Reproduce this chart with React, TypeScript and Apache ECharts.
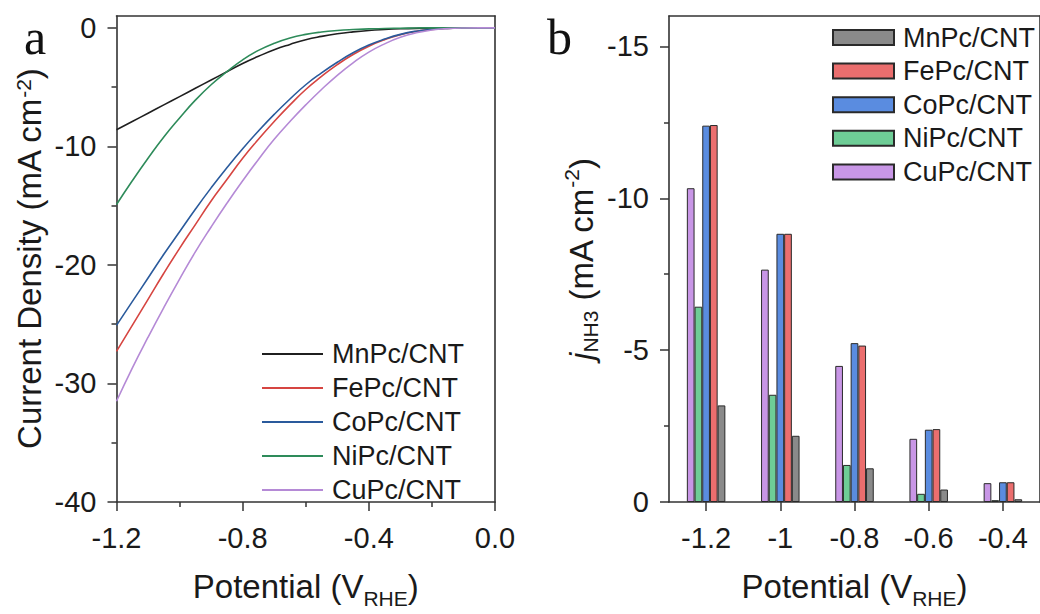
import React, { useEffect, useRef } from "react";
import * as echarts from "echarts";

// ---------- Panel a: LSV curves ----------
const potentials = [
  -1.2, -1.15, -1.1, -1.05, -1.0, -0.95, -0.9, -0.85, -0.8, -0.75, -0.7, -0.65,
  -0.6, -0.55, -0.5, -0.45, -0.4, -0.35, -0.3, -0.25, -0.2, -0.15, -0.1, -0.05, 0,
];
const mnLine = [-8.6, -7.9, -7.2, -6.5, -5.8, -5.1, -4.4, -3.7, -3.0, -2.4, -1.85, -1.4, -1.0, -0.72, -0.5, -0.34, -0.22, -0.14, -0.08, -0.04, -0.02, -0.01, 0, 0, 0];
const feLine = [-27.3, -25.1, -22.9, -20.7, -18.6, -16.6, -14.6, -12.8, -11.0, -9.4, -7.9, -6.5, -5.2, -4.1, -3.1, -2.25, -1.55, -1.0, -0.58, -0.3, -0.13, -0.04, -0.01, 0, 0];
const coLine = [-25.1, -23.1, -21.1, -19.1, -17.2, -15.3, -13.5, -11.8, -10.2, -8.7, -7.3, -6.0, -4.8, -3.8, -2.9, -2.1, -1.45, -0.95, -0.55, -0.28, -0.12, -0.04, -0.01, 0, 0];
const niLine = [-14.9, -12.9, -11.0, -9.2, -7.6, -6.1, -4.8, -3.7, -2.7, -1.9, -1.3, -0.85, -0.55, -0.35, -0.22, -0.14, -0.09, -0.05, -0.03, -0.01, 0, 0, 0, 0, 0];
const cuLine = [-31.5, -28.7, -26.1, -23.6, -21.2, -18.9, -16.8, -14.8, -12.9, -11.1, -9.4, -7.9, -6.5, -5.2, -4.0, -2.95, -2.05, -1.35, -0.8, -0.42, -0.18, -0.06, -0.01, 0, 0];

const aXMajor = [-1.2, -0.8, -0.4, 0];
const aXMinor = [-1.0, -0.6, -0.2];
const aYMajor = [-40, -30, -20, -10, 0];
const aYMinor = [-35, -25, -15, -5];

// ---------- Panel b: NH3 partial current density ----------
const categories = ["-1.2", "-1", "-0.8", "-0.6", "-0.4"];
const mnBar = [-3.18, -2.18, -1.11, -0.41, -0.09];
const feBar = [-12.41, -8.83, -5.15, -2.4, -0.65];
const coBar = [-12.39, -8.83, -5.23, -2.38, -0.65];
const niBar = [-6.43, -3.53, -1.22, -0.27, -0.06];
const cuBar = [-10.33, -7.65, -4.48, -2.08, -0.62];
const bYMajor = [-15, -10, -5, 0];
const bYMinor = [-12.5, -7.5, -2.5];

const names = ["MnPc/CNT", "FePc/CNT", "CoPc/CNT", "NiPc/CNT", "CuPc/CNT"];
const lineColors = ["#1f1f1f", "#d64541", "#2a5a9c", "#2e8b5a", "#b58ad6"];
const barColors = ["#8a8a8a", "#eb6e6e", "#5a8ce0", "#6ecd96", "#c896e6"];

const FONT = "Arial, 'Liberation Sans', Helvetica, sans-serif";
const SERIF = "'Liberation Serif', 'Times New Roman', serif";
const TXT = "#1a1a1a";
const AX = "#333333";

export default function App() {
  const ref = useRef<HTMLDivElement>(null);

  useEffect(() => {
    if (!ref.current) return;
    const chart = echarts.init(ref.current, null, { renderer: "svg" });

    const lineVals = [mnLine, feLine, coLine, niLine, cuLine];
    const barVals = [mnBar, feBar, coBar, niBar, cuBar];
    const bSuffix = " (b)";

    const lineSeries = names.map((n, i) => ({
      name: n,
      type: "line",
      xAxisIndex: 0,
      yAxisIndex: 0,
      smooth: true,
      symbol: "none",
      data: potentials.map((p, k) => [p, lineVals[i][k]]),
      lineStyle: { width: 1.6, color: lineColors[i] },
      itemStyle: { color: lineColors[i] },
    }));

    // left-to-right order inside each category: Cu, Ni, Co, Fe, Mn
    const barOrder = [4, 3, 2, 1, 0];
    const barSeries = barOrder.map((i) => ({
      name: names[i] + bSuffix,
      type: "bar",
      xAxisIndex: 2,
      yAxisIndex: 2,
      barWidth: 7.7,
      barGap: "0%",
      data: barVals[i],
      itemStyle: { color: barColors[i], borderColor: "#2a2a2a", borderWidth: 1 },
    }));

    const axisLineOn = { show: true, onZero: false, lineStyle: { color: AX, width: 1.6 } };
    const labelStyle = { color: TXT, fontSize: 29, fontFamily: FONT };
    const tickStyle = { color: AX, width: 1.5 };
    const frameOnly = {
      axisLine: axisLineOn,
      axisTick: { show: false },
      axisLabel: { show: false },
      splitLine: { show: false },
    };
    const xName = {
      name: "{m|Potential (V}{s|RHE}{m|)}",
      nameLocation: "middle",
      nameGap: 61,
      nameTextStyle: {
        rich: {
          m: { fontSize: 33, lineHeight: 46, color: TXT, fontFamily: FONT },
          s: { fontSize: 21, lineHeight: 21, verticalAlign: "bottom", color: TXT, fontFamily: FONT },
        },
      },
    };

    const option: any = {
      animation: false,
      backgroundColor: "#ffffff",
      textStyle: { fontFamily: FONT },
      grid: [
        { left: 116.5, top: 16, width: 378.5, height: 495 },
        { left: 669, top: 16, width: 379, height: 495 },
      ],
      legend: [
        {
          data: names,
          orient: "vertical",
          left: 262,
          top: 340,
          padding: 0,
          icon: "rect",
          itemWidth: 61,
          itemHeight: 1.8,
          itemGap: 6,
          textStyle: { color: TXT, fontSize: 27, lineHeight: 28, fontFamily: FONT, padding: [0, 0, 0, 4] },
        },
        {
          data: names.map((n) => n + bSuffix),
          orient: "vertical",
          left: 832,
          top: 23.5,
          padding: 0,
          icon: "rect",
          itemWidth: 61,
          itemHeight: 15,
          itemGap: 5.6,
          formatter: (n: string) => n.replace(bSuffix, ""),
          textStyle: { color: TXT, fontSize: 27, lineHeight: 28, fontFamily: FONT, padding: [0, 0, 0, 4] },
        },
      ],
      xAxis: [
        {
          gridIndex: 0,
          type: "value",
          min: -1.2,
          max: 0,
          axisLine: axisLineOn,
          axisTick: { show: true, customValues: aXMajor, length: 9, lineStyle: tickStyle },
          axisLabel: { ...labelStyle, margin: 21, customValues: aXMajor, formatter: (v: number) => v.toFixed(1) },
          splitLine: { show: false },
          ...xName,
        },
        {
          gridIndex: 0,
          type: "value",
          position: "bottom",
          min: -1.2,
          max: 0,
          axisLine: { show: false, onZero: false },
          axisTick: { show: true, customValues: aXMinor, length: 5, lineStyle: tickStyle },
          axisLabel: { show: false },
          splitLine: { show: false },
        },
        {
          gridIndex: 1,
          type: "category",
          data: categories,
          boundaryGap: true,
          axisLine: axisLineOn,
          axisTick: { show: true, alignWithLabel: true, length: 9, lineStyle: tickStyle },
          axisLabel: { ...labelStyle, margin: 21 },
          splitLine: { show: false },
          ...xName,
        },
        { gridIndex: 0, type: "value", position: "top", min: -1.2, max: 0, ...frameOnly },
        { gridIndex: 1, type: "category", position: "top", data: categories, ...frameOnly },
      ],
      yAxis: [
        {
          gridIndex: 0,
          type: "value",
          min: -40,
          max: 1,
          axisLine: axisLineOn,
          axisTick: { show: true, customValues: aYMajor, length: 9, lineStyle: tickStyle },
          axisLabel: { ...labelStyle, margin: 20, customValues: aYMajor },
          splitLine: { show: false },
          name: "{m|Current Density (mA cm}{p|-2}{m|)}",
          nameLocation: "middle",
          nameGap: 71,
          nameTextStyle: {
            rich: {
              m: { fontSize: 33, lineHeight: 33, color: TXT, fontFamily: FONT },
              p: { fontSize: 21, lineHeight: 21, verticalAlign: "top", color: TXT, fontFamily: FONT },
            },
          },
        },
        {
          gridIndex: 0,
          type: "value",
          position: "left",
          min: -40,
          max: 1,
          axisLine: { show: false, onZero: false },
          axisTick: { show: true, customValues: aYMinor, length: 5, lineStyle: tickStyle },
          axisLabel: { show: false },
          splitLine: { show: false },
        },
        {
          gridIndex: 1,
          type: "value",
          inverse: true,
          min: -16,
          max: 0,
          axisLine: axisLineOn,
          axisTick: { show: true, customValues: bYMajor, length: 9, lineStyle: tickStyle },
          axisLabel: { ...labelStyle, margin: 20, customValues: bYMajor },
          splitLine: { show: false },
          name: "{j|j}{s|NH3}{m| (mA cm}{p|-2}{m|)}",
          nameLocation: "middle",
          nameGap: 68,
          nameTextStyle: {
            rich: {
              j: { fontSize: 33, lineHeight: 40, fontStyle: "italic", color: TXT, fontFamily: FONT },
              m: { fontSize: 33, lineHeight: 40, color: TXT, fontFamily: FONT },
              s: { fontSize: 21, lineHeight: 21, verticalAlign: "bottom", color: TXT, fontFamily: FONT },
              p: { fontSize: 21, lineHeight: 21, verticalAlign: "top", color: TXT, fontFamily: FONT },
            },
          },
        },
        {
          gridIndex: 1,
          type: "value",
          position: "left",
          inverse: true,
          min: -16,
          max: 0,
          axisLine: { show: false, onZero: false },
          axisTick: { show: true, customValues: bYMinor, length: 5, lineStyle: tickStyle },
          axisLabel: { show: false },
          splitLine: { show: false },
        },
        { gridIndex: 0, type: "value", position: "right", min: -40, max: 1, ...frameOnly },
        { gridIndex: 1, type: "value", position: "right", inverse: true, min: -16, max: 0, ...frameOnly },
      ],
      graphic: [
        { type: "text", left: 24, top: 12, style: { text: "a", fontSize: 50, fontFamily: SERIF, fill: "#111" } },
        { type: "text", left: 547, top: 12, style: { text: "b", fontSize: 50, fontFamily: SERIF, fill: "#111" } },
      ],
      series: [...lineSeries, ...barSeries],
    };

    chart.setOption(option);
    return () => chart.dispose();
  }, []);

  return (
    <div
      ref={ref}
      style={{ position: "absolute", left: 0, top: 0, width: 1040, height: 614, background: "#fff" }}
    />
  );
}
